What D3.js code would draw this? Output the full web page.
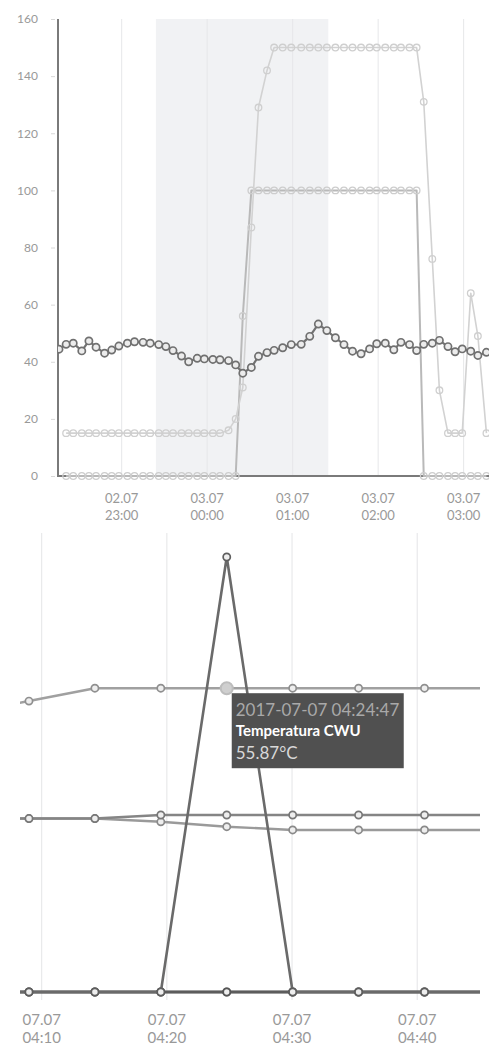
<!DOCTYPE html>
<html>
<head>
<meta charset="utf-8">
<script src="https://cdnjs.cloudflare.com/ajax/libs/d3/7.8.5/d3.min.js"></script>
<style>
  body { margin: 0; background: #fff; }
  svg { display: block; font-family: Lato, "Open Sans", sans-serif; }
</style>
</head>
<body>
<svg id="chart" width="489" height="1045"></svg>
<script>
// ---------- top panel: 02.07 evening -> 03.07 night ----------
const topTimes = [
  "2017-07-02 22:16", "2017-07-02 22:21", "2017-07-02 22:26", "2017-07-02 22:32", "2017-07-02 22:37",
  "2017-07-02 22:42", "2017-07-02 22:48", "2017-07-02 22:53", "2017-07-02 22:58", "2017-07-02 23:04",
  "2017-07-02 23:09", "2017-07-02 23:15", "2017-07-02 23:20", "2017-07-02 23:26", "2017-07-02 23:31",
  "2017-07-02 23:36", "2017-07-02 23:42", "2017-07-02 23:47", "2017-07-02 23:53", "2017-07-02 23:58",
  "2017-07-03 00:04", "2017-07-03 00:09", "2017-07-03 00:15", "2017-07-03 00:20", "2017-07-03 00:25",
  "2017-07-03 00:31", "2017-07-03 00:36", "2017-07-03 00:42", "2017-07-03 00:47", "2017-07-03 00:53",
  "2017-07-03 00:59", "2017-07-03 01:06", "2017-07-03 01:12", "2017-07-03 01:18", "2017-07-03 01:24",
  "2017-07-03 01:30", "2017-07-03 01:36", "2017-07-03 01:42", "2017-07-03 01:48", "2017-07-03 01:54",
  "2017-07-03 01:59", "2017-07-03 02:05", "2017-07-03 02:11", "2017-07-03 02:16", "2017-07-03 02:22",
  "2017-07-03 02:27", "2017-07-03 02:32", "2017-07-03 02:38", "2017-07-03 02:43", "2017-07-03 02:49",
  "2017-07-03 02:54", "2017-07-03 02:59", "2017-07-03 03:05", "2017-07-03 03:10", "2017-07-03 03:16"
];
const tempCO = [
  44.4, 46.1, 46.5, 43.8, 47.3, 45.1, 43.0, 44.1, 45.5, 46.5,
  47.0, 46.8, 46.5, 46.0, 45.3, 43.9, 42.0, 40.0, 41.2, 41.0,
  40.8, 40.7, 40.4, 38.9, 36.0, 38.0, 41.9, 43.2, 44.0, 44.9,
  46.0, 46.1, 48.9, 53.2, 50.9, 48.4, 46.0, 43.7, 42.8, 44.5,
  46.3, 46.5, 44.2, 46.8, 46.0, 43.9, 46.1, 46.5, 47.5, 45.3,
  43.5, 44.5, 43.7, 42.2, 43.3
];
const setPoint = [
  null, 15, 15, 15, 15, 15, 15, 15, 15, 15,
  15, 15, 15, 15, 15, 15, 15, 15, 15, 15,
  15, 15, 16, 20, 31, 87, 129, 142, 150, 150,
  150, 150, 150, 150, 150, 150, 150, 150, 150, 150,
  150, 150, 150, 150, 150, 150, 131, 76, 30, 15,
  15, 15, 64, 49, 15
];
const pumpLevel = [
  null, 0, 0, 0, 0, 0, 0, 0, 0, 0,
  0, 0, 0, 0, 0, 0, 0, 0, 0, 0,
  0, 0, 0, 0, 56, 100, 100, 100, 100, 100,
  100, 100, 100, 100, 100, 100, 100, 100, 100, 100,
  100, 100, 100, 100, 100, 100, 0, 0, 0, 0,
  0, 0, 0, 0, 0
];
const topTicks = ["2017-07-02 23:00", "2017-07-03 00:00", "2017-07-03 01:00", "2017-07-03 02:00", "2017-07-03 03:00"];
const nightBand = ["2017-07-02 23:24", "2017-07-03 01:25"];

// ---------- bottom panel: 07.07 around 04:25 ----------
const bottomTimes = [
  "2017-07-07 04:03:43", "2017-07-07 04:08:59", "2017-07-07 04:14:15", "2017-07-07 04:19:31", "2017-07-07 04:24:47",
  "2017-07-07 04:30:03", "2017-07-07 04:35:19", "2017-07-07 04:40:35", "2017-07-07 04:45:51"
];
const tempCWU   = [51.2, 53.5, 55.87, 55.87, 55.87, 55.87, 55.87, 55.87, 55.87];
const heater    = [0, 0, 0, 0, 80, 0, 0, 0, 0];
const tempSupply = [31.9, 31.9, 31.9, 32.55, 32.55, 32.55, 32.55, 32.55, 32.55];
const tempReturn = [31.9, 31.9, 31.9, 31.3, 30.4, 29.8, 29.8, 29.8, 29.8];
const pumpA     = [0, 0, 0, 0, 0, 0, 0, 0, 0];
const pumpB     = [0, 0, 0, 0, 0, 0, 0, 0, 0];
const bottomTicks = ["2017-07-07 04:10:00", "2017-07-07 04:20:00", "2017-07-07 04:30:00", "2017-07-07 04:40:00"];
const hoverIndex = 4;

const parseMin = d3.timeParse("%Y-%m-%d %H:%M");
const parseSec = d3.timeParse("%Y-%m-%d %H:%M:%S");
const fmtDay = d3.timeFormat("%d.%m");
const fmtHour = d3.timeFormat("%H:%M");

var svg = d3.select("#chart");

const drawSeries = (g, x, y, times, values, st) => {
    var pts = times.map((t, i) => ({ t: t, v: values[i] })).filter(d => d.v != null);
    var line = d3.line().x(d => x(d.t)).y(d => y(d.v));
    g.append("path")
        .datum(pts)
        .attr("fill", "none")
        .attr("stroke", st.line)
        .attr("stroke-width", st.width)
        .attr("stroke-linejoin", "round")
        .attr("d", line);
    g.selectAll(null)
        .data(pts)
      .enter().append("circle")
        .attr("cx", d => x(d.t))
        .attr("cy", d => y(d.v))
        .attr("r", st.r)
        .attr("fill", st.fill)
        .attr("stroke", st.dot)
        .attr("stroke-width", st.dotWidth);
};

// ======================= TOP =======================
const initTop = () => {
    var left = 58, right = 489, top = 19, bottom = 476;
    var times = topTimes.map(parseMin);

    var x = d3.scaleTime()
        .domain([parseSec("2017-07-02 22:15:18"), parseSec("2017-07-03 03:17:48")])
        .range([left, right]);
    var y = d3.scaleLinear().domain([0, 160]).range([bottom, top]);

    var g = svg.append("g");

    g.append("defs").append("clipPath").attr("id", "clipTop")
      .append("rect")
        .attr("x", left).attr("y", 0)
        .attr("width", right - left).attr("height", bottom + 6);

    // night band
    g.append("rect")
        .attr("x", x(parseMin(nightBand[0])))
        .attr("y", top)
        .attr("width", x(parseMin(nightBand[1])) - x(parseMin(nightBand[0])))
        .attr("height", bottom - top)
        .attr("fill", "#f1f2f4");

    // vertical grid
    g.selectAll(".vgrid")
        .data(topTicks.map(parseMin))
      .enter().append("line")
        .attr("class", "vgrid")
        .attr("x1", d => x(d)).attr("x2", d => x(d))
        .attr("y1", top).attr("y2", bottom)
        .attr("stroke", "#e6e7e9")
        .attr("stroke-width", 1);

    // y axis
    var yAxis = g.append("g")
        .attr("transform", "translate(" + (left - 3) + ",0)")
        .call(d3.axisLeft(y).ticks(8).tickSize(4).tickPadding(13));
    yAxis.select(".domain").remove();
    yAxis.selectAll("line").attr("stroke", "#d8d8d8");
    yAxis.selectAll("text")
        .attr("fill", "#999")
        .style("font-size", "12px")
        .style("font-family", "Lato");

    // x axis labels (two rows)
    var xl = g.selectAll(".xlab")
        .data(topTicks.map(parseMin))
      .enter().append("text")
        .attr("class", "xlab")
        .attr("text-anchor", "middle")
        .attr("fill", "#999")
        .style("font-size", "13px");
    xl.append("tspan").attr("x", d => x(d)).attr("y", 503).text(d => fmtDay(d));
    xl.append("tspan").attr("x", d => x(d)).attr("y", 520).text(d => fmtHour(d));

    // axis lines
    g.append("line")
        .attr("x1", left).attr("x2", right).attr("y1", bottom).attr("y2", bottom)
        .attr("stroke", "#7a7a7a").attr("stroke-width", 2);
    g.append("line")
        .attr("x1", left).attr("x2", left).attr("y1", top).attr("y2", bottom + 1)
        .attr("stroke", "#7a7a7a").attr("stroke-width", 2);

    var plot = g.append("g").attr("clip-path", "url(#clipTop)");

    drawSeries(plot, x, y, times, pumpLevel,
        { line: "#b9b9b9", width: 2, r: 3.3, fill: "none", dot: "#cdcdcd", dotWidth: 1.3 });
    drawSeries(plot, x, y, times, setPoint,
        { line: "#d2d2d2", width: 1.6, r: 3.3, fill: "none", dot: "#cfcfcf", dotWidth: 1.3 });
    drawSeries(plot, x, y, times, tempCO,
        { line: "#727272", width: 2.2, r: 3.6, fill: "#ececec", dot: "#707070", dotWidth: 1.7 });
};

// ======================= BOTTOM =======================
const initBottom = () => {
    var left = 20, right = 480, top = 533, bottom = 1000;
    var times = bottomTimes.map(parseSec);

    var x = d3.scaleTime()
        .domain([parseSec("2017-07-07 04:08:16"), parseSec("2017-07-07 04:45:01")])
        .range([left, right]);
    var y = d3.scaleLinear().domain([0, 80]).range([992, 557]);

    var g = svg.append("g");

    g.append("defs").append("clipPath").attr("id", "clipBottom")
      .append("rect")
        .attr("x", left).attr("y", top - 10)
        .attr("width", right - left).attr("height", bottom - top + 10);

    g.selectAll(".vgrid2")
        .data(bottomTicks.map(parseSec))
      .enter().append("line")
        .attr("class", "vgrid2")
        .attr("x1", d => x(d)).attr("x2", d => x(d))
        .attr("y1", top).attr("y2", bottom)
        .attr("stroke", "#e4e5e7")
        .attr("stroke-width", 1);

    var xl = g.selectAll(".xlab2")
        .data(bottomTicks.map(parseSec))
      .enter().append("text")
        .attr("class", "xlab2")
        .attr("text-anchor", "middle")
        .attr("fill", "#999")
        .style("font-size", "15px");
    xl.append("tspan").attr("x", d => x(d)).attr("y", 1025).text(d => fmtDay(d));
    xl.append("tspan").attr("x", d => x(d)).attr("y", 1043).text(d => fmtHour(d));

    var plot = g.append("g").attr("clip-path", "url(#clipBottom)");

    drawSeries(plot, x, y, times, pumpB,
        { line: "#8c8c8c", width: 2.5, r: 3.6, fill: "#eee", dot: "#777", dotWidth: 1.7 });
    drawSeries(plot, x, y, times, pumpA,
        { line: "#5c5c5c", width: 3.2, r: 3.6, fill: "#eee", dot: "#555", dotWidth: 1.9 });
    drawSeries(plot, x, y, times, tempReturn,
        { line: "#9a9a9a", width: 2.4, r: 3.6, fill: "#eee", dot: "#8a8a8a", dotWidth: 1.7 });
    drawSeries(plot, x, y, times, tempSupply,
        { line: "#858585", width: 2.6, r: 3.6, fill: "#eee", dot: "#777", dotWidth: 1.7 });
    drawSeries(plot, x, y, times, tempCWU,
        { line: "#a0a0a0", width: 2.6, r: 3.6, fill: "#eee", dot: "#8f8f8f", dotWidth: 1.7 });
    drawSeries(plot, x, y, times, heater,
        { line: "#6a6a6a", width: 2.6, r: 3.6, fill: "#eee", dot: "#5e5e5e", dotWidth: 1.7 });

    // hovered point + tooltip
    var hx = x(times[hoverIndex]), hy = y(tempCWU[hoverIndex]);
    g.append("circle")
        .attr("cx", hx).attr("cy", hy).attr("r", 6)
        .attr("fill", "#cfcfcf").attr("stroke", "#bdbdbd").attr("stroke-width", 2);

    var tip = g.append("g").attr("transform", "translate(" + (hx + 5) + "," + (hy + 5) + ")");
    tip.append("rect")
        .attr("width", 172).attr("height", 75)
        .attr("fill", "#505050");
    tip.append("text")
        .attr("x", 4).attr("y", 23)
        .attr("fill", "#a9a9a9")
        .style("font-size", "17px")
        .text(d3.timeFormat("%Y-%m-%d %H:%M:%S")(times[hoverIndex]));
    tip.append("text")
        .attr("x", 4).attr("y", 43)
        .attr("fill", "#fff")
        .style("font-size", "15px")
        .style("font-weight", "bold")
        .text("Temperatura CWU");
    tip.append("text")
        .attr("x", 4).attr("y", 66)
        .attr("fill", "#d8d8d8")
        .style("font-size", "17px")
        .text(tempCWU[hoverIndex].toFixed(2) + "°C");
};

initTop();
initBottom();
</script>
</body>
</html>
